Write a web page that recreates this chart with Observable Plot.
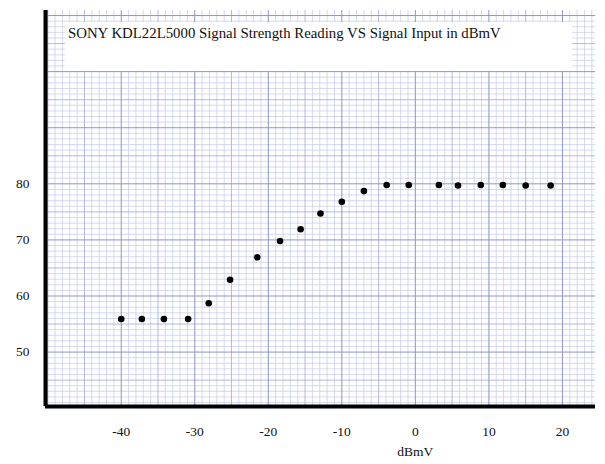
<!DOCTYPE html>
<html>
<head>
<meta charset="utf-8">
<script src="https://cdn.jsdelivr.net/npm/d3@7"></script>
<script src="https://cdn.jsdelivr.net/npm/@observablehq/plot@0.6"></script>
<style>
  html, body { margin: 0; padding: 0; background: #fff; }
  #wrap { position: relative; width: 605px; height: 464px; overflow: hidden; }
  #title {
    position: absolute; left: 65px; top: 22px; width: 507px; height: 49px;
    background: #fff; box-sizing: border-box; padding: 3px 0 0 3px;
    font-family: "Liberation Serif", "DejaVu Serif", serif; font-size: 14.8px; color: #111;
    white-space: nowrap;
  }
</style>
</head>
<body>
<div id="wrap"><div id="title">SONY KDL22L5000 Signal Strength Reading VS Signal Input in dBmV</div></div>
<script>
// Signal input (dBmV) and signal strength reading
const inputDbmv = [-40, -37.2, -34.2, -30.9, -28.1, -25.2, -21.5, -18.4, -15.6, -12.9, -10, -7, -3.9, -0.9, 3.2, 5.8, 8.9, 11.9, 15, 18.4];
const strength  = [55.9, 55.9, 55.9, 55.9, 58.7, 62.9, 66.9, 69.8, 71.9, 74.7, 76.8, 78.7, 79.8, 79.8, 79.8, 79.7, 79.8, 79.8, 79.7, 79.7];
const xTicks = [-40, -30, -20, -10, 0, 10, 20];
const yTicks = [50, 60, 70, 80];
const xLabel = "dBmV";
const xDomain = [-50.3, 24.5];
const yDomain = [40.3, 110.9];

const data = inputDbmv.map((x, i) => ({x, y: strength[i]}));
const gx = d3.range(-50, 25, 1);
const gy = d3.range(41, 111, 1);
const minorX = gx.filter(v => v % 5 !== 0), midX = gx.filter(v => v % 5 === 0 && v % 10 !== 0), majX = gx.filter(v => v % 10 === 0);
const minorY = gy.filter(v => v % 5 !== 0), midY = gy.filter(v => v % 5 === 0 && v % 10 !== 0), majY = gy.filter(v => v % 10 === 0);

const serif = "'Liberation Serif', 'DejaVu Serif', serif";
const fmt = d => String(d);

const chart = Plot.plot({
  width: 605,
  height: 464,
  marginLeft: 45,
  marginRight: 10,
  marginTop: 10,
  marginBottom: 58,
  style: {fontFamily: serif, fontSize: "13px", color: "#111", background: "#fff"},
  x: {domain: xDomain, axis: null},
  y: {domain: yDomain, axis: null},
  marks: [
    Plot.gridX(minorX, {stroke: "#c9cfee", strokeOpacity: 1, strokeWidth: 0.8}),
    Plot.gridY(minorY, {stroke: "#c9cfee", strokeOpacity: 1, strokeWidth: 0.8}),
    Plot.gridX(midX, {stroke: "#aab1dc", strokeOpacity: 1, strokeWidth: 0.9}),
    Plot.gridY(midY, {stroke: "#aab1dc", strokeOpacity: 1, strokeWidth: 0.9}),
    Plot.gridX(majX, {stroke: "#8e95c6", strokeOpacity: 1, strokeWidth: 1}),
    Plot.gridY(majY, {stroke: "#8e95c6", strokeOpacity: 1, strokeWidth: 1}),
    Plot.axisY(yTicks, {tickSize: 0, tickPadding: 16, fontSize: 13.5, fontFamily: serif, label: null, tickFormat: fmt}),
    Plot.axisX(xTicks, {tickSize: 0, tickPadding: 20, fontSize: 13.5, fontFamily: serif, label: null, tickFormat: fmt}),
    Plot.axisX([0], {tickSize: 0, tickPadding: 40, fontSize: 13.5, fontFamily: serif, label: null, tickFormat: () => xLabel}),
    Plot.ruleX([xDomain[0]], {stroke: "#000", strokeWidth: 4}),
    Plot.ruleY([yDomain[0]], {stroke: "#000", strokeWidth: 4, x1: xDomain[0], x2: xDomain[1]}),
    Plot.dot(data, {x: "x", y: "y", r: 3.3, fill: "#000", stroke: "none"})
  ]
});
document.getElementById("wrap").prepend(chart);
</script>
</body>
</html>
